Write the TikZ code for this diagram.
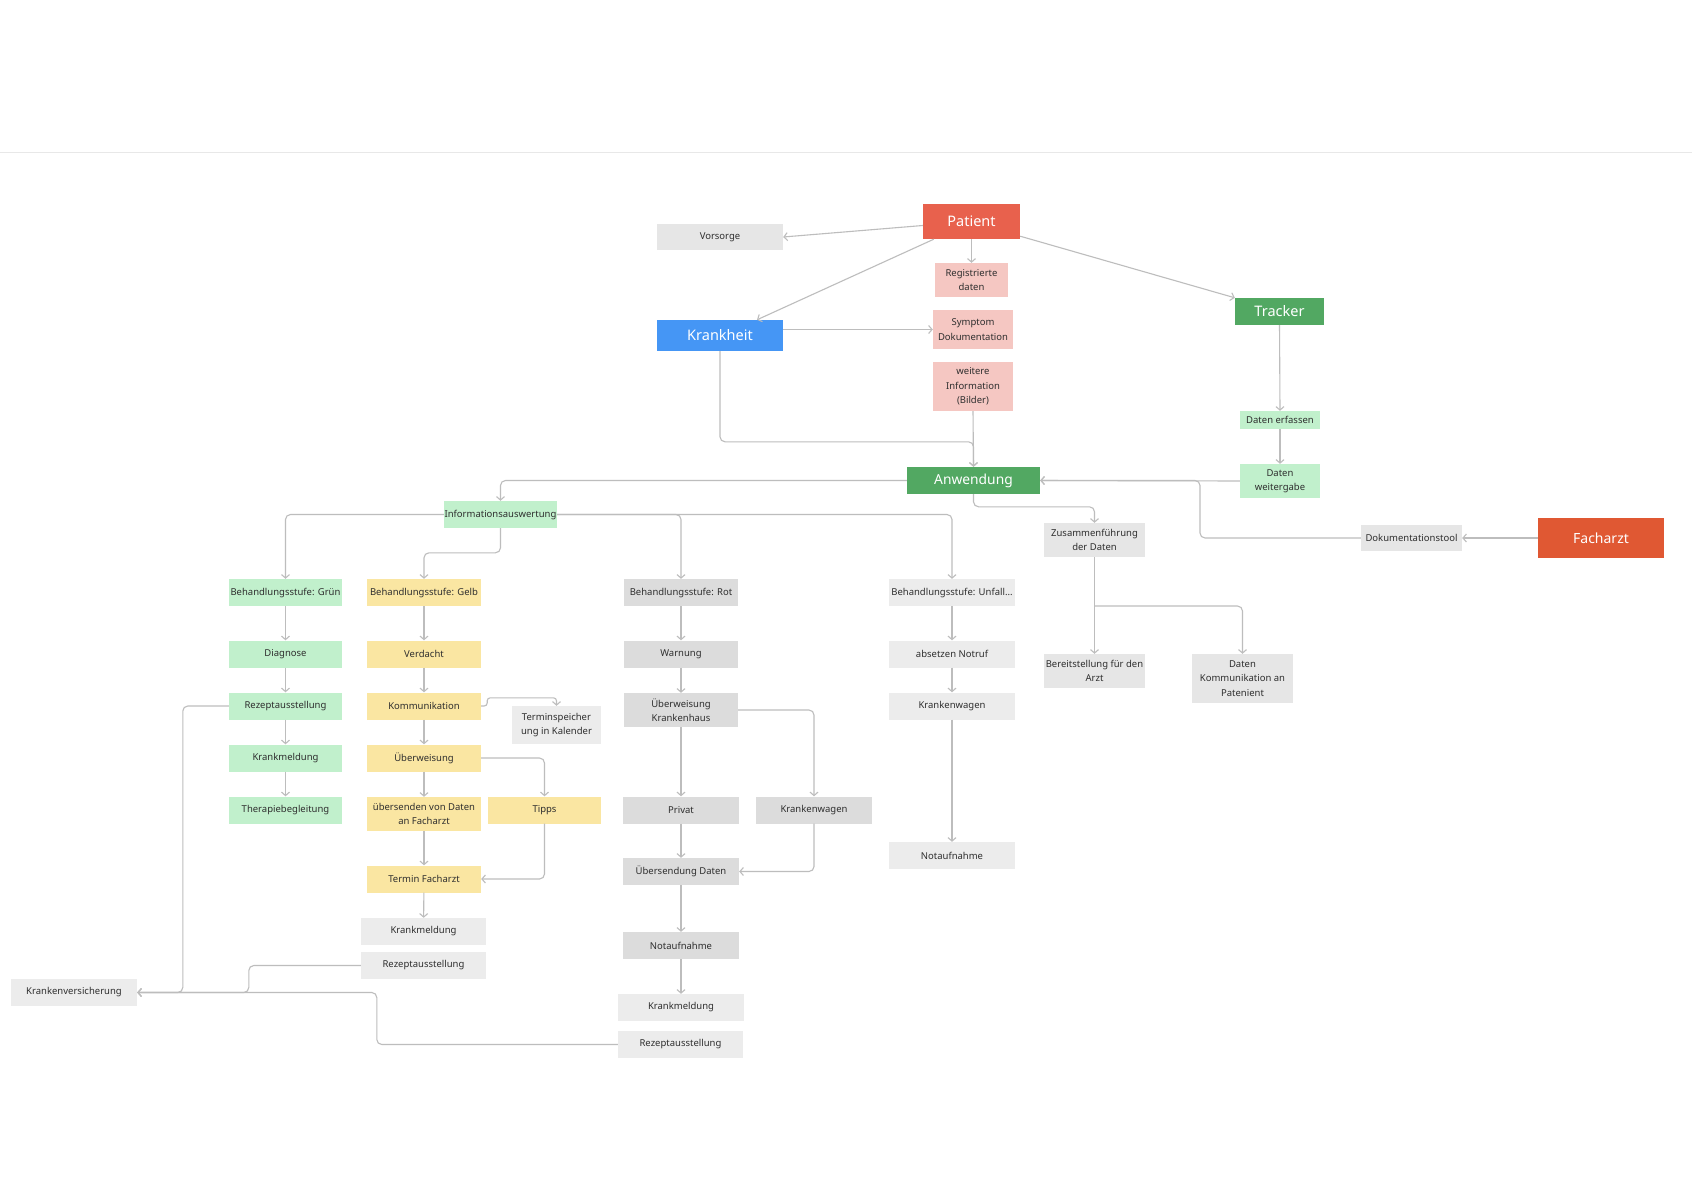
\documentclass[tikz,border=0pt]{standalone}
\usepackage{fontspec}
\setmainfont{Noto Sans}
\usetikzlibrary{arrows.meta}
\definecolor{linec}{HTML}{BDBDBD}
\definecolor{txt}{HTML}{2E2E2E}
\definecolor{redP}{HTML}{E8614D}
\definecolor{orangeF}{HTML}{E05833}
\definecolor{blueK}{HTML}{4596F5}
\definecolor{greenD}{HTML}{52A862}
\definecolor{greenL}{HTML}{C1F0CC}
\definecolor{pinkL}{HTML}{F5C7C2}
\definecolor{yellowL}{HTML}{FAE6A2}
\definecolor{grayA}{HTML}{E6E6E6}
\definecolor{grayL}{HTML}{ECECEC}
\definecolor{grayD}{HTML}{DCDCDC}
\definecolor{topl}{HTML}{E8E8E8}
\tikzset{
  box/.style={rectangle, inner sep=0pt, text=txt, align=center,
    font=\fontsize{9.5}{14.5}\selectfont},
  bigbox/.style={rectangle, inner sep=0pt, text=white, align=center},
  conn/.style={draw=linec, line width=1.1pt, rounded corners=5pt,
    -{Straight Barb[length=3.5pt,width=8pt]}},
  sz/.style 2 args={minimum width=#1pt, minimum height=#2pt}
}
\begin{document}
\begin{tikzpicture}[x=1pt,y=-1pt]
\useasboundingbox[fill=white] (0,0) rectangle (1692,1191);
\draw[topl, line width=1pt] (0,152) -- (1692,152);

% top part
\node[bigbox, fill=redP, sz={97}{35}, font=\fontsize{14.5}{16}\selectfont] (patient) at (971.5,221.5) {Patient};
\node[box, fill=grayA, sz={126}{26}] (vorsorge) at (720,237) {Vorsorge};
\node[box, fill=pinkL, sz={73}{34}] (regd) at (971.5,280) {Registrierte\\daten};
\node[bigbox, fill=blueK, sz={126}{31}, font=\fontsize{14.5}{16}\selectfont] (krankheit) at (720,335.5) {Krankheit};
\node[box, fill=pinkL, sz={80}{39}] (symptom) at (973,329.5) {Symptom\\Dokumentation};
\node[box, fill=pinkL, sz={80}{49}] (weitere) at (973,386.5) {weitere\\Information\\(Bilder)};
\node[bigbox, fill=greenD, sz={89}{27}, font=\fontsize{14.5}{16}\selectfont] (tracker) at (1279.5,311.5) {Tracker};
\node[box, fill=greenL, sz={80}{18}] (derf) at (1280,420) {Daten erfassen};
\node[box, fill=greenL, sz={80}{34}] (dweit) at (1280,481) {Daten\\weitergabe};
\node[bigbox, fill=greenD, sz={133}{27}, font=\fontsize{13.8}{16}\selectfont] (anw) at (973.5,480.5) {Anwendung};
\node[box, fill=greenL, sz={113}{27}] (info) at (500.5,514.5) {Informationsauswertung};
\node[box, fill=grayA, sz={101}{34}] (zus) at (1094.5,540) {Zusammenführung\\der Daten};
\node[box, fill=grayA, sz={101}{26}] (doku) at (1411.5,538) {Dokumentationstool};
\node[bigbox, fill=orangeF, sz={126}{40}, font=\fontsize{14}{16}\selectfont] (facharzt) at (1601,538) {Facharzt};
\node[box, fill=grayA, sz={101}{34}] (bereit) at (1094.5,671) {Bereitstellung für den\\Arzt};
\node[box, fill=grayA, sz={101}{49}] (dkomm) at (1242.5,678.5) {Daten\\Kommunikation an\\Patenient};

% green column
\node[box, fill=greenL, sz={113}{27}] (gruen) at (285.5,592.5) {Behandlungsstufe: Grün};
\node[box, fill=greenL, sz={113}{27}] (diag) at (285.5,654) {Diagnose};
\node[box, fill=greenL, sz={113}{27}] (rezg) at (285.5,706) {Rezeptausstellung};
\node[box, fill=greenL, sz={113}{27}] (kmg) at (285.5,758) {Krankmeldung};
\node[box, fill=greenL, sz={113}{27}] (ther) at (285.5,810) {Therapiebegleitung};

% yellow column
\node[box, fill=yellowL, sz={114}{27}] (gelb) at (424,592.5) {Behandlungsstufe: Gelb};
\node[box, fill=yellowL, sz={114}{27}] (verd) at (424,654) {Verdacht};
\node[box, fill=yellowL, sz={114}{27}] (komm) at (424,706) {Kommunikation};
\node[box, fill=yellowL, sz={114}{27}] (uew) at (424,758) {Überweisung};
\node[box, fill=yellowL, sz={114}{34}] (uebs) at (424,814) {übersenden von Daten\\an Facharzt};
\node[box, fill=yellowL, sz={114}{27}] (termf) at (424,879) {Termin Facharzt};
\node[box, fill=grayL, sz={125}{27}] (kmy) at (423.5,931.5) {Krankmeldung};
\node[box, fill=grayL, sz={125}{27}] (rezy) at (423.5,965.5) {Rezeptausstellung};
\node[box, fill=grayL, sz={89}{38}] (termsp) at (556.5,725) {Terminspeicher\\ung in Kalender};
\node[box, fill=yellowL, sz={113}{27}] (tipps) at (544.5,810) {Tipps};

% red column
\node[box, fill=grayD, sz={114}{27}] (rot) at (681,592.5) {Behandlungsstufe: Rot};
\node[box, fill=grayD, sz={114}{27}] (warn) at (681,654) {Warnung};
\node[box, fill=grayD, sz={114}{34}] (uek) at (681,710) {Überweisung\\Krankenhaus};
\node[box, fill=grayD, sz={116}{27}] (privat) at (681,810) {Privat};
\node[box, fill=grayD, sz={116}{27}] (kwr) at (814,810) {Krankenwagen};
\node[box, fill=grayD, sz={116}{27}] (uebsd) at (681,871.5) {Übersendung Daten};
\node[box, fill=grayD, sz={116}{27}] (notr) at (681,945.5) {Notaufnahme};
\node[box, fill=grayL, sz={126}{27}] (kmr) at (681,1007.5) {Krankmeldung};
\node[box, fill=grayL, sz={125}{27}] (rezr) at (680.5,1044.5) {Rezeptausstellung};

% unfall column
\node[box, fill=grayL, sz={126}{27}] (unf) at (952,592.5) {Behandlungsstufe: Unfall...};
\node[box, fill=grayL, sz={126}{27}] (notruf) at (952,654) {absetzen Notruf};
\node[box, fill=grayL, sz={126}{27}] (kwu) at (952,706) {Krankenwagen};
\node[box, fill=grayL, sz={126}{27}] (notu) at (952,855.5) {Notaufnahme};

\node[box, fill=grayL, sz={126}{27}] (kv) at (74,992.5) {Krankenversicherung};

\coordinate (j1) at (1200,480.5);
\coordinate (j2) at (1094.5,606);

% connectors top
\draw[conn] ([yshift=-4pt]patient.west) -- (vorsorge.east);
\draw[conn] ([xshift=11pt]patient.south west) -- ([xshift=37pt]krankheit.north);
\draw[conn] (patient.south) -- (regd.north);
\draw[conn] ([yshift=3pt]patient.south east) -- (tracker.north west);
\draw[conn] (symptom.west -| krankheit.east) -- (symptom.west);
\draw[conn] (krankheit.south) |- ([yshift=25pt]anw.north) -- (anw.north);
\draw[conn] (weitere.south) -- (anw.north);
\draw[conn] (tracker.south) -- (derf.north);
\draw[conn] (derf.south) -- (dweit.north);
\draw[conn] (dweit.west) -- (anw.east);
\draw[conn] (doku.west) -| (j1) -- (anw.east);
\draw[conn] (facharzt.west) -- (doku.east);
\draw[conn] (anw.west) -| (info.north);
\draw[conn] (anw.south) |- ([yshift=16pt]zus.north) -- (zus.north);
\draw[conn] (zus.south) -- (bereit.north);
\draw[conn] (j2) -| (dkomm.north);

% info branches
\draw[conn] (info.west) -| (gruen.north);
\draw[conn] (info.south) |- ([yshift=26pt]gelb.north) -- (gelb.north);
\draw[conn] (info.east) -| (rot.north);
\draw[conn] (info.east) -| (unf.north);

% green chain
\draw[conn] (gruen) -- (diag);
\draw[conn] (diag) -- (rezg);
\draw[conn] (rezg) -- (kmg);
\draw[conn] (kmg) -- (ther);

% yellow chain
\draw[conn] (gelb) -- (verd);
\draw[conn] (verd) -- (komm);
\draw[conn] (komm) -- (uew);
\draw[conn] (uew) -- (uebs);
\draw[conn] (uebs) -- (termf);
\draw[conn] (termf) -- (kmy);
\draw[conn, rounded corners=3pt] (komm.east) -- ++(6,0) |- ([yshift=8pt]termsp.north) -- (termsp.north);
\draw[conn] (uew.east) -| (tipps.north);
\draw[conn] (tipps.south) |- (termf.east);

% red chain
\draw[conn] (rot) -- (warn);
\draw[conn] (warn) -- (uek);
\draw[conn] (uek) -- (privat);
\draw[conn] (privat) -- (uebsd);
\draw[conn] (uebsd) -- (notr);
\draw[conn] (notr) -- (kmr);
\draw[conn] (uek.east) -| (kwr.north);
\draw[conn] (kwr.south) |- (uebsd.east);

% unfall chain
\draw[conn] (unf) -- (notruf);
\draw[conn] (notruf) -- (kwu);
\draw[conn] (kwu) -- (notu);

% Krankenversicherung
\draw[conn] (rezg.west) -- ++(-46,0) |- (kv.east);
\draw[conn] (rezy.west) -- ++(-112,0) |- (kv.east);
\draw[conn] (rezr.west) -- ++(-241,0) |- (kv.east);
\end{tikzpicture}
\end{document}
